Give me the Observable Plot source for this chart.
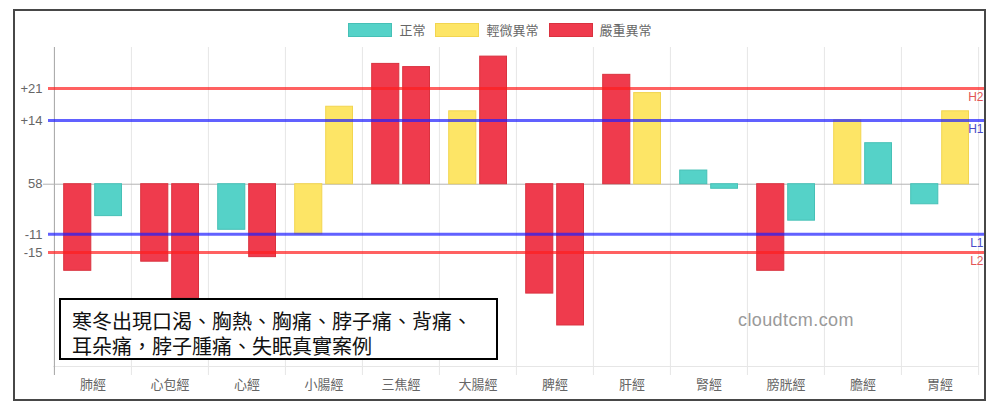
<!DOCTYPE html>
<html><head><meta charset="utf-8">
<script src="https://cdn.jsdelivr.net/npm/d3@7"></script>
<script src="https://cdn.jsdelivr.net/npm/@observablehq/plot@0.6"></script>
<style>
body{margin:0;background:#fff;}
#wrap{position:relative;width:1000px;height:411px;overflow:hidden;font-family:"Noto Sans CJK TC","Liberation Sans",sans-serif;}
#frame{position:absolute;left:13px;top:9px;width:973px;height:392px;border:2px solid #474747;box-sizing:border-box;pointer-events:none;}
#legend{position:absolute;top:20px;left:0;width:1000px;display:flex;justify-content:center;align-items:center;font-size:13px;color:#666;}
#legend .item{display:flex;align-items:center;margin:0 5px;}
#legend .sw{width:42px;height:12px;border:1px solid;margin-right:7px;}
#note{position:absolute;left:59px;top:298px;width:439px;height:62px;box-sizing:border-box;border:2px solid #000;background:#fff;padding:8px 0 0 11px;font-size:20px;line-height:25px;color:#111;white-space:nowrap;}
#wm{position:absolute;left:738px;top:310px;font-family:"Liberation Sans",Arial,sans-serif;font-size:18px;color:#9a9a9a;letter-spacing:0.4px;}
</style>
</head><body>
<div id="wrap"></div>
<script>
const categories = ["肺經","心包經","心經","小腸經","三焦經","大腸經","脾經","肝經","腎經","膀胱經","膽經","胃經"];
const statusNames = ["正常","輕微異常","嚴重異常"];
const statusColors = ["#55d2c8","#fde566","#ef3b4d"];
const statusBorders = ["#46c0b6","#f2d550","#d9323f"];
const valuesA = [-19,-17,-10,-11,26.4,16,-24,24,3,-19,14,-4.4];
const statusA = ["嚴重異常","嚴重異常","正常","輕微異常","嚴重異常","輕微異常","嚴重異常","嚴重異常","正常","嚴重異常","輕微異常","正常"];
const valuesB = [-7,-25,-16,17,25.7,28,-31,20,-1,-8,9,16];
const statusB = ["正常","嚴重異常","嚴重異常","輕微異常","嚴重異常","嚴重異常","嚴重異常","輕微異常","正常","正常","正常","輕微異常"];
const yDomain = [-40,30];
const yTicks = [21,14,0,-11,-15];
const yTickLabels = ["+21","+14","58","-11","-15"];
const refValues = [21,14,-11,-15];
const refLabels = ["H2","H1","L1","L2"];
const refColors = ["rgb(255,30,30)","rgb(30,30,255)","rgb(30,30,255)","rgb(255,30,30)"];
const refLabelColors = ["#e25555","#4a4ac8","#4a4ac8","#e25555"];
const noteLines = ["寒冬出現口渴、胸熱、胸痛、脖子痛、背痛、","耳朵痛，脖子腫痛、失眠真實案例"];
const watermark = "cloudtcm.com";

const W = 1000, H = 411, ML = 53, MR = 21, MT = 47, MB = 45;
const step = (W - ML - MR) / categories.length;
const rowsA = categories.map((c,i)=>({cat:c, v:valuesA[i], s:statusA[i]}));
const rowsB = categories.map((c,i)=>({cat:c, v:valuesB[i], s:statusB[i]}));
const strokeOf = s => statusBorders[statusNames.indexOf(s)];

const refMarks = [];
refValues.forEach((v,i)=>{
  refMarks.push(Plot.ruleY([v],{stroke:refColors[i],strokeWidth:3,strokeOpacity:0.7,insetLeft:-5,insetRight:-6}));
  refMarks.push(Plot.text([refLabels[i]],{y:()=>v,text:d=>d,frameAnchor:"right",textAnchor:"end",dx:4,dy:9,fill:refLabelColors[i],fontSize:12,fontFamily:"Liberation Sans, Arial, sans-serif"}));
});

const chart = Plot.plot({
  width:W, height:H, marginLeft:ML, marginRight:MR, marginTop:MT, marginBottom:MB,
  style:{fontFamily:"Noto Sans CJK TC, Liberation Sans, sans-serif", fontSize:"13px", color:"#666", background:"transparent", overflow:"visible"},
  x:{type:"band", domain:categories, padding:0, label:null},
  y:{domain:yDomain, label:null},
  color:{domain:statusNames, range:statusColors},
  marks:[
    Plot.ruleX(categories,{x:d=>d,dx:-step/2,stroke:"#e6e6e6",insetBottom:-9}),
    Plot.ruleX([categories[categories.length-1]],{x:d=>d,dx:step/2,stroke:"#e6e6e6",insetBottom:-9}),
    Plot.ruleY([yDomain[0]],{stroke:"#e6e6e6"}),
    Plot.ruleX([categories[0]],{x:d=>d,dx:-step/2,stroke:"#a8a8a8",insetBottom:-9}),
    Plot.ruleY([0],{stroke:"#b3b3b3",insetLeft:-10}),
    Plot.barY(rowsA,{x:"cat",y:"v",fill:"s",stroke:d=>strokeOf(d.s),strokeWidth:1,insetLeft:9.7,insetRight:40.2}),
    Plot.barY(rowsB,{x:"cat",y:"v",fill:"s",stroke:d=>strokeOf(d.s),strokeWidth:1,insetLeft:40.7,insetRight:9.5}),
    ...refMarks,
    Plot.axisY({ticks:yTicks, tickFormat:d=>yTickLabels[yTicks.indexOf(d)], tickSize:0, tickPadding:11, label:null, fontFamily:"Liberation Sans, Arial, sans-serif", fontSize:13}),
    Plot.axisX({tickSize:0, tickPadding:13, label:null, fontSize:13})
  ]
});

const wrap = document.getElementById("wrap");
wrap.appendChild(chart);

const frame = document.createElement("div"); frame.id="frame"; wrap.appendChild(frame);

const legend = document.createElement("div"); legend.id="legend";
statusNames.forEach((n,i)=>{
  const it = document.createElement("div"); it.className="item";
  const sw = document.createElement("div"); sw.className="sw";
  sw.style.background = statusColors[i]; sw.style.borderColor = statusBorders[i];
  const tx = document.createElement("span"); tx.textContent = n;
  it.appendChild(sw); it.appendChild(tx); legend.appendChild(it);
});
wrap.appendChild(legend);

const note = document.createElement("div"); note.id="note";
noteLines.forEach(l=>{const d=document.createElement("div"); d.textContent=l; note.appendChild(d);});
wrap.appendChild(note);

const wm = document.createElement("div"); wm.id="wm"; wm.textContent = watermark; wrap.appendChild(wm);
</script>
</body></html>
